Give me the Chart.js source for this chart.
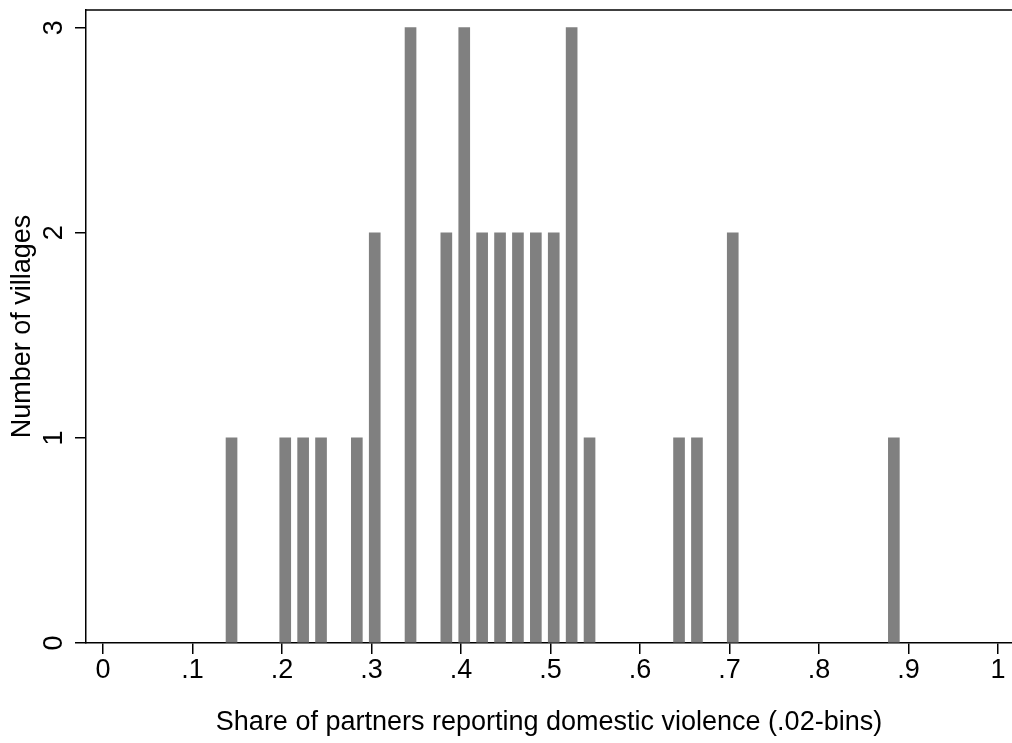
<!DOCTYPE html>
<html>
<head>
<meta charset="utf-8">
<title>Share of partners reporting domestic violence</title>
<script src="https://cdn.jsdelivr.net/npm/chart.js@4/dist/chart.umd.min.js"></script>
<style>
  html, body { margin: 0; padding: 0; background: #ffffff; overflow: hidden; }
  #chart { display: block; }
</style>
</head>
<body>
<canvas id="chart" width="1012" height="743"></canvas>
<script>
// Histogram of village-level shares, .02-wide bins (bin midpoints)
const binCenters = [0.1436, 0.2036, 0.2236, 0.2436, 0.2836, 0.3036, 0.3436, 0.3836, 0.4036, 0.4236,
                    0.4436, 0.4636, 0.4836, 0.5036, 0.5236, 0.5436, 0.6436, 0.6636, 0.7036, 0.8836];
const villageCounts = [1, 1, 1, 1, 1, 2, 3, 2, 3, 2,
                       2, 2, 2, 2, 3, 1, 1, 1, 2, 1];

const xTickValues = [0, 0.1, 0.2, 0.3, 0.4, 0.5, 0.6, 0.7, 0.8, 0.9, 1];
const xTickLabels = ['0', '.1', '.2', '.3', '.4', '.5', '.6', '.7', '.8', '.9', '1'];
const yTickValues = [0, 1, 2, 3];
const yTickLabels = ['0', '1', '2', '3'];

const FONT = '"Liberation Sans", Arial, Helvetica, sans-serif';
const AXIS_W = 1.5;

// Stata-style rotated y tick labels and the upper frame line
const frameAndLabels = {
  id: 'frameAndLabels',
  afterDraw(chart) {
    const ctx = chart.ctx;
    const area = chart.chartArea;
    const y = chart.scales.y;
    ctx.save();
    ctx.strokeStyle = '#000';
    ctx.lineWidth = AXIS_W;
    ctx.beginPath();
    ctx.moveTo(area.left - AXIS_W / 2, area.top);
    ctx.lineTo(chart.width, area.top);
    ctx.stroke();

    ctx.fillStyle = '#000';
    ctx.font = '27px ' + FONT;
    ctx.textAlign = 'center';
    ctx.textBaseline = 'alphabetic';
    yTickValues.forEach((v, i) => {
      const py = y.getPixelForValue(v);
      ctx.save();
      ctx.translate(61.5, py);
      ctx.rotate(-Math.PI / 2);
      ctx.fillText(yTickLabels[i], 0, 0);
      ctx.restore();
    });
    ctx.restore();
  }
};

new Chart(document.getElementById('chart'), {
  type: 'bar',
  data: {
    datasets: [{
      label: 'Number of villages',
      data: binCenters.map((c, i) => ({ x: c, y: villageCounts[i] })),
      backgroundColor: '#808080',
      borderWidth: 0,
      barThickness: 11
    }]
  },
  options: {
    responsive: false,
    animation: false,
    devicePixelRatio: 1,
    layout: { padding: { top: 10, right: 0, left: 0, bottom: 0 } },
    plugins: {
      legend: { display: false },
      tooltip: { enabled: false }
    },
    scales: {
      x: {
        type: 'linear',
        position: 'bottom',
        offset: false,
        min: -0.019,
        max: 1.0156,
        afterBuildTicks: s => { s.ticks = xTickValues.map(v => ({ value: v })); },
        afterFit: s => { s.height = 100; s.paddingLeft = 0; s.paddingRight = 0; },
        ticks: {
          autoSkip: false,
          maxRotation: 0,
          minRotation: 0,
          padding: 0,
          color: '#000',
          font: { family: FONT, size: 27, lineHeight: 1.2 },
          callback: (v, i) => xTickLabels[i]
        },
        grid: {
          display: true,
          offset: false,
          drawOnChartArea: false,
          drawTicks: true,
          tickLength: 11,
          color: '#000',
          lineWidth: AXIS_W
        },
        border: { display: true, color: '#000', width: AXIS_W },
        title: {
          display: true,
          text: 'Share of partners reporting domestic violence (.02-bins)',
          color: '#000',
          font: { family: FONT, size: 27, lineHeight: 1.2 },
          padding: { top: 0, bottom: 4 }
        }
      },
      y: {
        type: 'linear',
        position: 'left',
        min: 0,
        max: 3.086,
        afterBuildTicks: s => { s.ticks = yTickValues.map(v => ({ value: v })); },
        afterFit: s => { s.width = 86; },
        ticks: { display: false },
        grid: {
          display: true,
          drawOnChartArea: false,
          drawTicks: true,
          tickLength: 11,
          color: '#000',
          lineWidth: AXIS_W
        },
        border: { display: true, color: '#000', width: AXIS_W },
        title: {
          display: true,
          text: 'Number of villages',
          color: '#000',
          font: { family: FONT, size: 27, lineHeight: 1.2 },
          padding: { top: 6, bottom: 0 }
        }
      }
    }
  },
  plugins: [frameAndLabels]
});
</script>
</body>
</html>
